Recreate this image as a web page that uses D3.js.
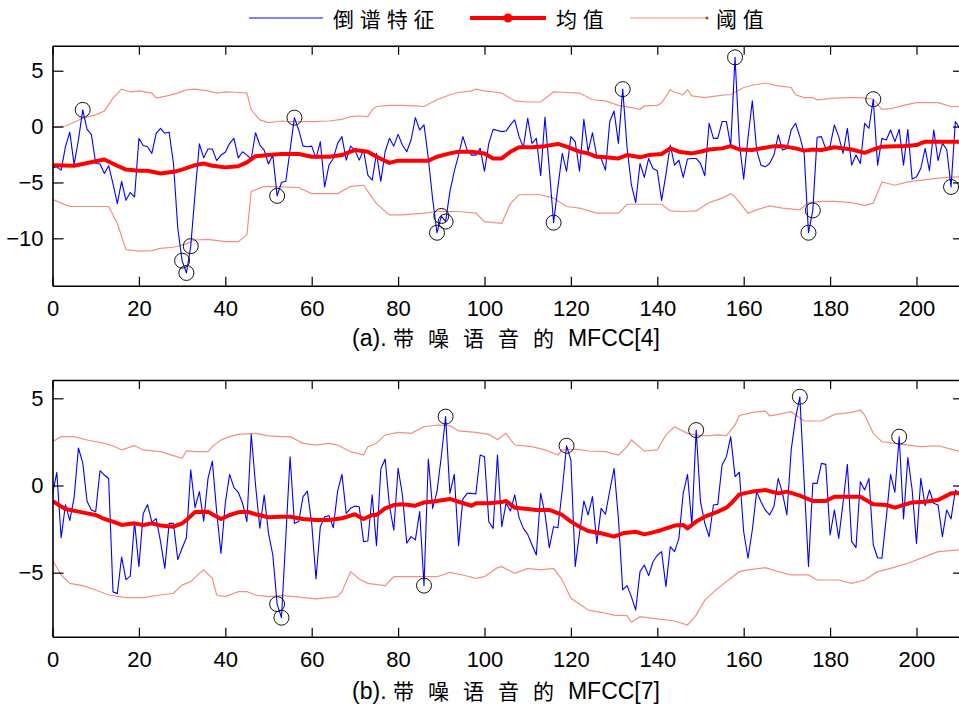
<!DOCTYPE html>
<html>
<head>
<meta charset="utf-8">
<script src="https://cdn.jsdelivr.net/npm/d3@7"></script>
<style>
  body { margin: 0; background: #fff; }
  text { font-family: "Liberation Sans", Arial, "Noto Sans CJK SC", sans-serif; fill: #000; }
</style>
</head>
<body>
<div id="chart"></div>
<script>
"use strict";

// ---- data (index -> value) ----
// (a) MFCC[4]
var cep4 = [-3.7,-3.6,-3.9,-1.8,-0.5,-3.4,-1.2,1.5,-0.25,-0.7,
  -3.3,-3.35,-4.2,-3.5,-5.1,-6.9,-4.9,-6.6,-5.9,-6.3,
  -1.05,-1.7,-1.8,-2.4,-0.6,-0.15,-0.6,-0.5,-3.3,-9.1,
  -12.0,-13.1,-10.7,-6.0,-1.55,-2.8,-2.0,-2.0,-3.05,-2.55,
  -2.3,-1.5,-1.05,-2.8,-2.25,-2.55,-2.9,-0.55,-1.65,-2.1,
  -3.35,-2.55,-6.2,-5.0,-4.9,-2.1,0.8,-0.3,-1.75,-1.8,
  -1.75,-2.85,-1.35,-5.4,-3.45,-2.85,-1.5,-0.9,-3.0,-1.75,
  -2.1,-3.0,-2.1,-4.35,-4.8,-2.4,-4.9,-2.25,-1.05,-1.75,
  -0.7,-1.65,-2.25,-1.2,0.8,-0.3,0.15,-2.85,-6.5,-9.5,
  -8.0,-8.5,-5.8,-4.0,-2.55,-0.9,-2.1,-2.55,-2.55,-1.95,
  -4.0,-1.5,-0.25,-0.35,-0.45,-0.4,0.15,0.6,-0.9,-1.85,
  0.75,-1.5,-1.05,-4.4,0.85,-3.8,-8.6,-5.4,-2.4,-4.0,
  -0.9,-1.35,-4.0,0.65,-2.25,-0.55,-2.7,-2.85,-3.9,0.45,
  1.4,-1.5,3.35,-1.85,-5.2,-6.8,-3.3,-4.55,-2.85,-3.75,
  -3.95,-6.6,-4.3,-1.65,-3.45,-3.0,-4.55,-2.9,-2.85,-2.85,
  -3.3,-4.4,0.3,-1.05,-1.05,0.45,0.45,-1.75,6.2,-1.5,
  -4.7,-1.0,2.3,-2.1,-3.45,-3.6,-3.3,-2.55,-0.75,-2.1,
  -1.95,-0.3,0.3,-0.9,-2.4,-9.5,-7.5,-0.95,-0.9,-2.0,
  -1.75,0.15,-0.9,-2.4,-0.15,-3.45,-2.55,-3.3,0.3,-0.15,
  2.45,-3.45,-1.05,-1.2,-0.3,-1.35,-0.25,-3.45,-0.25,-4.7,
  -4.5,-3.75,-1.95,-3.95,-0.3,-3.05,-1.5,-2.05,-5.4,0.45,
  -0.15];
var circ4 = [7, 30, 31, 32, 52, 56, 89, 90, 91, 116, 132, 158, 175, 176, 190, 208];
var mean4 = [[0,-3.45],[5,-3.5],[10,-3.1],[12,-2.95],[15,-3.5],[17,-3.85],[20,-3.95],[22,-3.95],
  [25,-4.2],[28,-4.05],[30,-3.85],[33,-3.45],[35,-3.3],[37,-3.5],[40,-3.65],[43,-3.55],[45,-3.2],
  [47,-2.65],[50,-2.55],[53,-2.45],[57,-2.45],[60,-2.7],[64,-2.7],[67,-2.55],[69,-2.25],[70,-2.1],
  [73,-2.25],[75,-2.7],[78,-3.25],[80,-3.05],[84,-3.05],[87,-3.05],[89,-2.7],[92,-2.4],[94,-2.25],
  [97,-2.25],[100,-2.4],[102,-2.85],[104,-2.85],[106,-2.25],[108,-1.85],[111,-1.85],[114,-1.75],
  [117,-1.55],[119,-1.8],[122,-2.25],[124,-2.4],[126,-2.7],[128,-2.75],[131,-2.85],[133,-2.55],
  [136,-2.75],[138,-2.55],[141,-2.45],[143,-1.95],[145,-2.25],[148,-2.4],[150,-2.25],[152,-2.05],
  [155,-1.95],[157,-1.75],[159,-2.05],[162,-2.1],[164,-1.95],[167,-1.75],[169,-1.75],[172,-1.95],
  [174,-2.15],[176,-2.05],[178,-2.1],[181,-1.85],[183,-1.95],[185,-2.05],[188,-2.35],[190,-2.05],
  [192,-1.8],[195,-1.75],[197,-1.75],[200,-1.65],[202,-1.35],[205,-1.35],[210,-1.35]];
var up4 = [[0,-0.05],[3,0.05],[7,0.75],[10,1.05],[12,1.4],[14,2.55],[16,3.35],[18,3.1],[20,3.2],
  [23,3.0],[24,2.55],[26,2.7],[29,3.0],[31,3.3],[33,3.35],[36,3.2],[38,3.0],[40,3.1],[43,3.05],
  [45,3.0],[46,1.5],[48,0.6],[50,0.35],[53,0.5],[55,0.45],[60,0.45],[64,0.5],[67,0.65],[69,0.9],
  [71,0.95],[73,0.9],[74,1.5],[75,1.8],[78,1.9],[81,1.9],[84,1.85],[86,1.8],[89,2.4],[92,2.85],
  [94,3.05],[97,3.2],[98,3.35],[100,3.2],[103,3.05],[104,3.0],[107,2.3],[110,2.2],[113,2.2],
  [116,3.1],[119,3.05],[122,3.0],[125,2.4],[128,2.3],[131,1.9],[134,1.7],[136,1.55],[137,1.85],
  [140,1.9],[141,2.1],[143,3.3],[144,3.1],[146,2.85],[147,3.3],[148,2.75],[151,2.6],[153,2.7],
  [156,2.85],[157,2.85],[160,3.5],[162,3.7],[165,3.9],[168,3.65],[171,3.5],[172,2.85],[174,2.6],
  [176,2.6],[177,2.4],[181,2.55],[184,2.6],[187,2.6],[190,2.45],[192,1.55],[194,1.6],[197,1.9],
  [200,2.15],[205,2.15],[208,1.8],[210,1.8]];
var lo4 = [[0,-6.5],[2,-6.85],[4,-7.15],[10,-7.15],[13,-7.15],[15,-8.65],[17,-11.0],[20,-11.15],
  [23,-11.1],[25,-10.9],[28,-10.8],[31,-10.5],[33,-10.15],[36,-10.1],[40,-10.3],[43,-10.3],[45,-9.7],
  [46,-5.8],[49,-5.35],[53,-5.4],[57,-5.45],[60,-6.0],[66,-6.0],[69,-5.35],[72,-5.25],[73,-5.8],
  [75,-6.9],[78,-7.9],[81,-7.9],[86,-7.75],[89,-7.6],[94,-7.6],[98,-7.75],[100,-8.5],[104,-8.65],
  [106,-6.9],[108,-6.1],[113,-6.1],[116,-6.4],[119,-7.15],[122,-7.3],[126,-7.75],[131,-7.75],
  [133,-6.95],[137,-6.95],[141,-6.95],[143,-7.55],[146,-7.6],[149,-7.55],[152,-6.8],[155,-6.4],
  [157,-6.0],[158,-6.3],[161,-7.75],[163,-7.45],[166,-7.1],[169,-7.3],[173,-7.45],[175,-6.8],
  [178,-6.7],[181,-6.7],[185,-6.8],[188,-7.05],[190,-6.85],[192,-4.95],[195,-5.25],[198,-4.95],
  [203,-4.7],[207,-4.55],[210,-4.5]];

// (b) MFCC[7]
var cep7 = [-0.5,0.75,-3.0,-1.1,-2.0,-0.7,2.15,1.3,-0.9,-1.4,
  -1.5,0.85,0.6,0.4,-6.1,-6.2,-4.1,-5.4,-5.2,-2.1,
  -4.65,-1.6,-1.1,-2.1,-1.9,-3.2,-4.75,-2.17,-2.17,-4.25,
  -3.6,-3.0,0.9,-1.27,-0.35,-2.04,0.41,1.4,-1.5,-3.9,
  -1.02,0.64,-0.12,-0.39,-1.02,-2.07,2.94,0.03,-2.45,-0.55,
  -2.74,-3.98,-6.8,-7.58,-3.0,1.65,-2.17,-2.07,-0.64,-0.32,
  -2.17,-5.36,-2.36,-1.79,-1.73,-2.42,-0.32,0.64,-1.6,-1.31,
  -1.18,-1.22,-3.22,-3.18,-0.54,-3.45,0.95,1.52,-1.16,-2.56,
  0.99,-0.54,-3.31,-2.93,-3.12,-1.5,-5.74,1.52,-1.31,-0.35,
  1.65,3.95,-0.45,0.64,-3.45,-0.77,-0.45,-0.45,-0.49,1.75,
  1.65,-2.08,-2.46,1.75,-2.36,-1.02,-1.46,-0.54,-1.84,-2.46,
  -2.8,-3.41,-3.99,-0.45,-1.6,-3.56,-2.36,-2.42,-0.26,2.28,
  1.46,-4.65,-2.74,-0.89,-1.69,-0.64,-3.32,-1.31,-1.65,-0.3,
  0.98,-1.88,-5.99,-5.74,-6.37,-7.14,-4.94,-4.56,-5.17,-4.37,
  -4.0,-3.79,-5.8,-3.51,-3.79,-3.03,-0.45,0.64,-2.27,3.18,
  -0.93,-2.17,-2.93,-1.12,-1.08,1.18,1.65,2.8,0.51,0.76,
  -2.65,-4.17,-2.55,-0.35,-0.93,-1.4,-1.69,-1.21,0.41,-0.45,
  -1.69,2.04,3.85,5.09,0.2,-4.65,0.12,0.12,1.27,1.21,
  -2.84,-1.4,-3.03,-1.0,1.21,-3.22,-3.56,0.22,-0.26,0.41,
  -3.41,-4.14,-4.17,-1.88,0.64,-0.39,2.8,-1.92,1.6,-0.26,
  -3.32,0.41,-1.16,-0.26,-1.02,-1.12,-2.93,-1.4,-1.92,-0.26,
  -0.5];
var circ7 = [52, 53, 86, 91, 119, 149, 173, 196];
var mean7 = [[0,-0.89],[2,-1.21],[3,-1.35],[6,-1.5],[8,-1.6],[10,-1.69],[12,-1.92],[14,-2.07],
  [16,-2.26],[19,-2.17],[21,-2.26],[23,-2.17],[25,-2.3],[28,-2.36],[30,-2.17],[31,-1.98],[33,-1.52],
  [36,-1.5],[37,-1.65],[39,-1.92],[41,-1.69],[43,-1.54],[45,-1.5],[47,-1.65],[50,-1.82],[53,-1.79],
  [55,-1.79],[58,-1.92],[61,-1.98],[64,-1.98],[67,-1.88],[70,-1.65],[71,-1.79],[72,-1.92],[74,-1.69],
  [75,-1.69],[77,-1.31],[79,-1.12],[81,-1.08],[84,-1.16],[86,-0.97],[89,-0.89],[92,-0.77],[94,-0.93],
  [97,-1.16],[98,-1.02],[101,-1.02],[104,-0.95],[105,-0.89],[107,-1.27],[110,-1.35],[112,-1.4],
  [115,-1.4],[118,-1.69],[120,-2.07],[122,-2.36],[124,-2.61],[127,-2.74],[130,-2.93],[132,-2.74],
  [135,-2.65],[137,-2.8],[139,-2.69],[141,-2.55],[144,-2.3],[146,-2.26],[147,-2.46],[149,-2.07],
  [151,-1.79],[154,-1.5],[156,-1.27],[157,-1.05],[159,-0.51],[162,-0.35],[165,-0.26],[168,-0.45],
  [170,-0.35],[173,-0.58],[176,-0.89],[179,-0.89],[181,-0.64],[184,-0.64],[187,-0.64],[190,-1.08],
  [193,-1.12],[195,-1.27],[199,-0.97],[202,-0.93],[205,-0.83],[208,-0.45],[210,-0.45]];
var up7 = [[0,2.51],[2,2.8],[5,2.8],[8,2.61],[12,2.42],[14,2.28],[16,2.04],[19,2.28],[21,2.04],
  [25,1.94],[28,1.71],[30,1.56],[31,1.98],[33,1.94],[36,1.94],[37,2.23],[39,2.61],[41,2.8],[43,2.93],
  [47,2.99],[50,2.85],[53,2.8],[55,2.8],[58,2.42],[61,2.32],[64,2.42],[66,2.32],[69,1.94],[72,1.75],
  [73,2.23],[75,2.42],[77,2.9],[80,3.05],[83,2.99],[86,3.37],[89,3.47],[92,3.43],[94,3.13],[98,3.05],
  [101,2.93],[103,2.64],[105,2.99],[107,2.32],[111,2.23],[114,2.04],[117,1.75],[118,2.04],[121,2.09],
  [124,1.98],[128,1.94],[131,1.75],[133,2.23],[134,2.61],[137,1.98],[140,2.04],[142,2.9],[144,3.37],
  [147,2.99],[150,2.86],[152,2.86],[154,2.9],[156,2.86],[158,3.47],[159,4.02],[162,4.19],[165,4.27],
  [166,4.0],[168,4.08],[171,4.23],[174,3.7],[178,3.7],[181,4.08],[185,4.19],[187,4.33],[188,4.04],
  [190,2.99],[192,2.51],[195,2.42],[198,2.32],[201,2.23],[205,2.28],[208,2.09],[210,1.94]];
var lo7 = [[0,-4.27],[2,-5.13],[4,-5.61],[7,-5.74],[10,-5.99],[13,-6.28],[17,-6.43],[21,-6.43],
  [25,-6.28],[28,-6.18],[30,-5.71],[32,-5.51],[34,-5.04],[35,-4.84],[37,-5.32],[38,-6.28],[40,-6.37],
  [43,-6.09],[45,-6.09],[47,-6.28],[50,-6.37],[53,-6.32],[56,-6.37],[61,-6.5],[66,-6.37],[67,-6.09],
  [69,-4.94],[71,-5.36],[73,-5.61],[77,-5.74],[79,-5.23],[84,-5.23],[89,-5.23],[92,-4.98],[95,-5.13],
  [98,-5.32],[100,-5.23],[103,-4.71],[104,-4.65],[107,-5.04],[110,-4.75],[113,-4.84],[116,-4.75],
  [118,-5.42],[120,-6.47],[124,-7.14],[127,-7.27],[130,-7.43],[133,-7.46],[134,-7.84],[136,-7.52],
  [140,-7.65],[144,-7.77],[147,-8.0],[149,-7.43],[151,-6.57],[154,-5.9],[157,-5.32],[159,-4.94],
  [161,-4.84],[165,-4.71],[168,-4.94],[171,-5.13],[175,-5.13],[177,-5.42],[182,-5.42],[185,-5.61],
  [188,-5.42],[191,-4.94],[194,-4.75],[198,-4.46],[202,-4.08],[205,-3.79],[210,-3.69]];

var xTicks = [0, 20, 40, 60, 80, 100, 120, 140, 160, 180, 200];
var yTicks4 = [5, 0, -5, -10];
var yTicks7 = [5, 0, -5];
var legendNames = ["倒 谱 特 征", "均 值", "阈 值"];
// caption pieces: prefix, chinese words, suffix
var captions = [["(a). ", "带噪语音的", "MFCC[4]"], ["(b). ", "带噪语音的", "MFCC[7]"]];

// ---- layout ----
var W = 959, H = 706;
var left = 52.5, right = 964;
var blue = "#0000ff", red = "#ff0000", salmon = "#f2907c";

var svg = d3.select("#chart").append("svg")
  .attr("width", W).attr("height", H);

var x = d3.scaleLinear().domain([0, 211]).range([left, right]);

function drawPanel(cfg) {
  var y = d3.scaleLinear().domain(cfg.ydom).range([cfg.bottom, cfg.top]);
  var g = svg.append("g");

  var clipId = "clip" + cfg.id;
  g.append("clipPath").attr("id", clipId)
    .append("rect")
    .attr("x", left).attr("y", cfg.top)
    .attr("width", right - left).attr("height", cfg.bottom - cfg.top);

  var plot = g.append("g").attr("clip-path", "url(#" + clipId + ")");

  var linePts = d3.line().x(d => x(d[0])).y(d => y(d[1]));
  var lineIdx = d3.line().x((d, i) => x(i)).y(d => y(d));

  // thresholds
  [cfg.up, cfg.lo].forEach(function(arr) {
    plot.append("path").datum(arr)
      .attr("d", linePts)
      .attr("fill", "none")
      .attr("stroke", salmon)
      .attr("stroke-width", 1.2);
  });

  // cepstrum
  plot.append("path").datum(cfg.cep)
    .attr("d", lineIdx)
    .attr("fill", "none")
    .attr("stroke", blue)
    .attr("stroke-width", 1.1)
    .attr("stroke-linejoin", "round");

  // mean
  plot.append("path").datum(cfg.mean)
    .attr("d", linePts)
    .attr("fill", "none")
    .attr("stroke", red)
    .attr("stroke-width", 4)
    .attr("stroke-linejoin", "round");

  // outlier circles
  plot.selectAll("circle.out").data(cfg.circ)
    .join("circle")
    .attr("class", "out")
    .attr("cx", d => x(d))
    .attr("cy", d => y(cfg.cep[d]))
    .attr("r", 7.5)
    .attr("fill", "none")
    .attr("stroke", "#111")
    .attr("stroke-width", 1);

  // axes (ticks pointing inwards)
  var xb = d3.axisBottom(x).tickValues(xTicks).tickSizeInner(-9).tickSizeOuter(0).tickPadding(15);
  var xt = d3.axisTop(x).tickValues(xTicks).tickSizeInner(-9).tickSizeOuter(0).tickFormat("");
  var yl = d3.axisLeft(y).tickValues(cfg.yticks).tickSizeInner(-11).tickSizeOuter(0).tickPadding(9);
  var yr = d3.axisRight(y).tickValues(cfg.yticks).tickSizeInner(-11).tickSizeOuter(0).tickFormat("");

  var ax = [
    g.append("g").attr("transform", "translate(0," + cfg.bottom + ")").call(xb),
    g.append("g").attr("transform", "translate(0," + cfg.top + ")").call(xt),
    g.append("g").attr("transform", "translate(" + left + ",0)").call(yl),
    g.append("g").attr("transform", "translate(" + right + ",0)").call(yr)
  ];
  ax.forEach(function(a) {
    a.select(".domain").attr("stroke", "#000").attr("stroke-width", 1.6);
    a.selectAll(".tick line").attr("stroke", "#000").attr("stroke-width", 1.2);
    a.selectAll(".tick text")
      .style("font-family", "'Liberation Sans', Arial, sans-serif")
      .style("font-size", "22px")
      .attr("fill", "#000");
  });

  // caption
  var cap = g.append("text")
    .attr("x", 506)
    .attr("y", cfg.capY)
    .attr("text-anchor", "middle")
    .style("font-size", "23px");
  cap.append("tspan").text(cfg.caption[0]);
  cap.append("tspan")
    .style("font-family", "'Noto Sans CJK SC', sans-serif")
    .style("font-size", "21px")
    .style("letter-spacing", "14px")
    .text(cfg.caption[1]);
  cap.append("tspan").text(cfg.caption[2]);
}

drawPanel({ id: "a", top: 45.7, bottom: 285.7, ydom: [-14.24, 7.24], yticks: yTicks4,
  cep: cep4, circ: circ4, mean: mean4, up: up4, lo: lo4, caption: captions[0], capY: 346 });
drawPanel({ id: "b", top: 380, bottom: 636.7, ydom: [-8.67, 6.05], yticks: yTicks7,
  cep: cep7, circ: circ7, mean: mean7, up: up7, lo: lo7, caption: captions[1], capY: 699 });

// ---- legend ----
var legend = svg.append("g").attr("id", "legend");
var legY = 18;
var legItems = [
  { x0: 249, x1: 323, tx: 333, color: blue, w: 1.2, dot: 0 },
  { x0: 470, x1: 546, tx: 556, color: red, w: 4, dot: 4.5 },
  { x0: 630, x1: 707, tx: 716, color: salmon, w: 1.2, dot: 1.5 }
];
legItems.forEach(function(d, i) {
  legend.append("line")
    .attr("x1", d.x0).attr("x2", d.x1)
    .attr("y1", legY).attr("y2", legY)
    .attr("stroke", d.color).attr("stroke-width", d.w);
  if (d.dot) {
    legend.append("circle")
      .attr("cx", i == 1 ? (d.x0 + d.x1) / 2 : d.x1)
      .attr("cy", legY).attr("r", d.dot)
      .attr("fill", i == 1 ? red : "#c0392b");
  }
  legend.append("text")
    .attr("x", d.tx).attr("y", legY + 9)
    .style("font-size", "21px")
    .text(legendNames[i]);
});
</script>
</body>
</html>
